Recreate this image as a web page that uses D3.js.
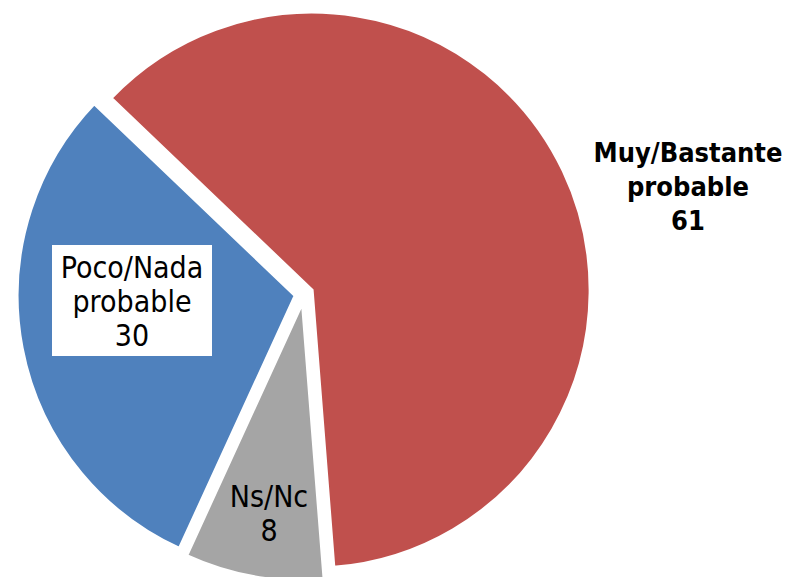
<!DOCTYPE html>
<html>
<head>
<meta charset="utf-8">
<script src="https://cdn.jsdelivr.net/npm/d3@7"></script>
<style>
  body { margin: 0; background: #fff; }
  svg text { font-family: "DejaVu Sans Condensed", "DejaVu Sans", sans-serif; }
</style>
</head>
<body>
<div class="main"></div>
<script>
const categories = ["Muy/Bastante probable", "Ns/Nc", "Poco/Nada probable"];
const values = [61, 8, 30];
const colors = ["#C0504D", "#A5A5A5", "#4F81BD"];

const w = 786, h = 577;
const cx = 304, cy = 294;
const radius = 278;
const explode = 9;
const start = -46.3 * Math.PI / 180;

const svg = d3.select(".main")
  .append("svg")
  .attr("width", w)
  .attr("height", h);

const pie = d3.pie()
  .sort(null)
  .value(d => d)
  .startAngle(start)
  .endAngle(start + 2 * Math.PI);

const arc = d3.arc().innerRadius(0).outerRadius(radius);

const arcs = pie(values);

const g = svg.append("g").attr("transform", "translate(" + cx + "," + cy + ")");

g.selectAll("path")
  .data(arcs)
  .enter()
  .append("path")
  .attr("d", arc)
  .attr("fill", (d, i) => colors[i])
  .attr("stroke", "#fff")
  .attr("stroke-width", 3)
  .attr("transform", d => {
    const a = (d.startAngle + d.endAngle) / 2;
    return "translate(" + (explode * Math.sin(a)) + "," + (-explode * Math.cos(a)) + ")";
  });

// labels, positioned by hand like the original
const labels = [
  { lines: ["Muy/Bastante", "probable", "61"], x: 688, y: 162, bold: true, size: 27 },
  { lines: ["Ns/Nc", "8"], x: 269, y: 507, bold: false, size: 30 },
  { lines: ["Poco/Nada", "probable", "30"], x: 132, y: 278, bold: false, size: 30, box: true }
];

labels.forEach(l => {
  if (l.box) {
    svg.append("rect")
      .attr("x", 52).attr("y", 245)
      .attr("width", 160).attr("height", 111)
      .attr("fill", "#fff");
  }
  const t = svg.append("text")
    .attr("text-anchor", "middle")
    .attr("font-size", l.size + "px")
    .attr("font-weight", l.bold ? "bold" : "normal")
    .attr("fill", "#000");
  l.lines.forEach((s, i) => {
    t.append("tspan")
      .attr("x", l.x)
      .attr("y", l.y + i * 34)
      .text(s);
  });
});
</script>
</body>
</html>
